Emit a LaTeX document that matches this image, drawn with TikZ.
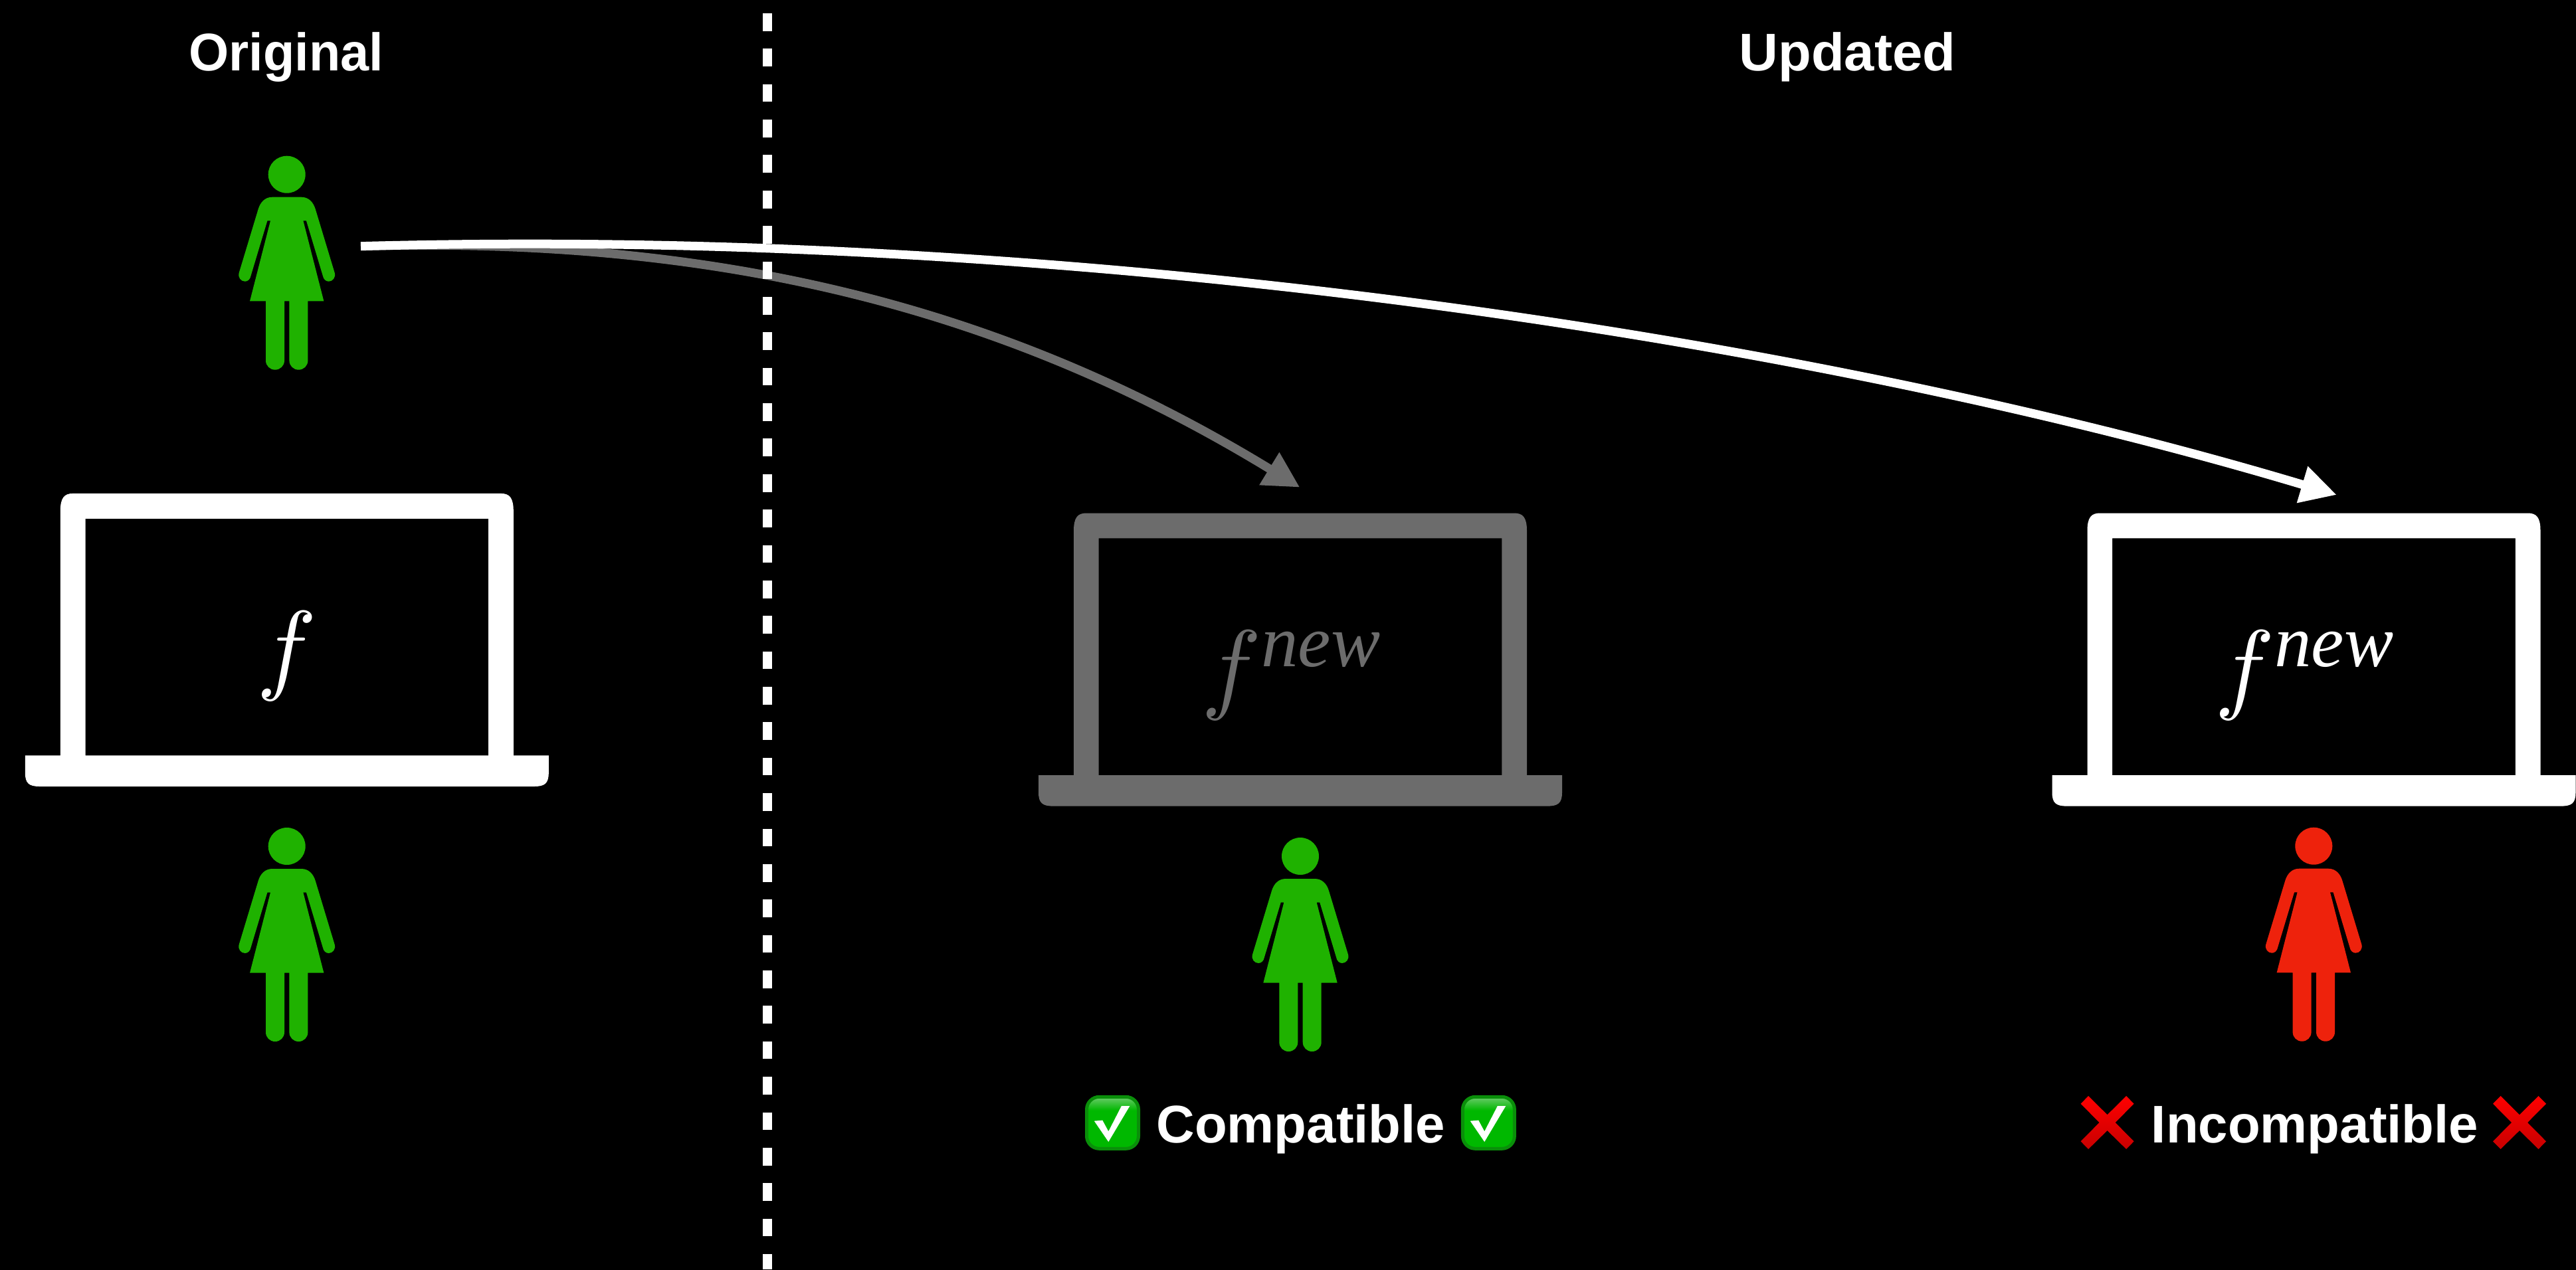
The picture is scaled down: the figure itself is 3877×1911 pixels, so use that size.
\documentclass[tikz,border=0pt]{standalone}
\usepackage{fontspec}
\setmainfont{Liberation Sans}
\newfontfamily\serifnew{Liberation Serif}
\usepackage{tikz}
\usetikzlibrary{arrows.meta}
\definecolor{usergreen}{HTML}{1FB200}
\definecolor{userred}{HTML}{EE220C}
\definecolor{dimgray}{HTML}{6C6C6C}
\definecolor{tickhi}{HTML}{6CCB6C}
\definecolor{tickmid}{HTML}{00B800}
\definecolor{ticklow}{HTML}{0A8F0A}
\definecolor{crosshi}{HTML}{FF0000}
\definecolor{crosslow}{HTML}{C80000}
\pgfdeclareverticalshading{tickshade}{100bp}{color(0bp)=(tickmid); color(25bp)=(tickmid); color(62bp)=(tickmid); color(75bp)=(tickhi); color(100bp)=(tickhi)}
\newcommand{\fnew}{$f^{\hbox{\raisebox{-0.29pt}{\fontsize{7.35}{8}\selectfont\serifnew\itshape new}}}$}
\tikzset{
 heading/.style={text=white,font=\fontsize{22.7}{26}\selectfont\bfseries,inner sep=0pt,anchor=base},
 fsym/.style={scale=4.3,inner sep=0pt},
 flow/.style={line width=1.3mm,-{Triangle[length=5.4mm,width=5.4mm]}},
 % figure in a dress, origin at the centre of the head
 pics/person/.style={code={
   \fill (0,0) circle (28);
   \fill (-22,34) -- (22,34) .. controls (33,34) and (40,42) .. (43,52) -- (72,148)
     .. controls (74,155) and (69,161) .. (63,161) .. controls (59,161) and (55,158) .. (54,152)
     -- (29.3,69.7) -- (24.7,69.7) -- (55.7,190.7) -- (31.7,190.7) -- (31.7,280)
     .. controls (31.7,288) and (25.5,294) .. (17.7,294) .. controls (9.9,294) and (3.7,288) .. (3.7,280)
     -- (3.7,190.7) -- (-3.7,190.7) -- (-3.7,280)
     .. controls (-3.7,288) and (-9.9,294) .. (-17.7,294) .. controls (-25.5,294) and (-31.7,288) .. (-31.7,280)
     -- (-31.7,190.7) -- (-55.7,190.7) -- (-24.7,69.7) -- (-29.3,69.7) -- (-54,152)
     .. controls (-55,158) and (-59,161) .. (-63,161) .. controls (-69,161) and (-74,155) .. (-72,148)
     -- (-43,52) .. controls (-40,42) and (-33,34) .. (-22,34) -- cycle;}},
 % origin at the middle of the lower screen edge
 pics/laptop/.style={code={
   \fill[even odd rule] (-394,0) -- (-341,0) -- (-341,-368) .. controls (-341,-388) and (-335,-394.5) .. (-322,-394.5)
     -- (322,-394.5) .. controls (335,-394.5) and (341,-388) .. (341,-368) -- (341,0) -- (394,0) -- (394,26)
     .. controls (394,42) and (388,46.6) .. (372,46.6) -- (-372,46.6) .. controls (-388,46.6) and (-394,42) .. (-394,26) -- cycle
     (-303.3,0) rectangle (303.3,-356.6);}},
 pics/tickbox/.style={code={
   \shade[draw=ticklow,line width=0.5mm,rounded corners=1.9mm,shading=tickshade]
     (-39,-39) rectangle (39,39);
   \fill[white] (-27.7,-2.7) -- (-15.2,-3.7) -- (-6.2,13) -- (13.4,-25.3) -- (25.9,-25.3) -- (-6.2,28.7) -- cycle;}},
 pics/crossmark/.style={code={
   \shade[top color=crosshi,bottom color=crosslow] (0,-11.7) -- (28.5,-40) -- (40,-28.3) -- (12,0) -- (40,28.3) -- (28.5,40)
     -- (0,12) -- (-28.5,40) -- (-40,28.3) -- (-12,0) -- (-40,-28.3) -- (-28.5,-40) -- cycle;}}
}
\begin{document}
\begin{tikzpicture}[x=0.01cm,y=-0.01cm]
 \useasboundingbox (0,0) rectangle (3877,1911);
 \fill[black] (-10,-10) rectangle (3887,1921);
 \node[heading,xscale=0.97] (orig) at (430.7,106.7) {Original};
 \node[heading,xscale=1.02] (upd) at (2780.5,106.7) {Updated};
 \pic[usergreen] (usertop) at (431.7,262.7) {person};
 \pic[usergreen] (userorig) at (431.7,1274) {person};
 \pic[usergreen] (usercomp) at (1957,1289) {person};
 \pic[userred] (userincomp) at (3482.3,1273.7) {person};
 \pic[white] (laporig) at (431.8,1137.4) {laptop};
 \pic[dimgray] (lapcomp) at (1957,1167) {laptop};
 \pic[white] (lapincomp) at (3482.5,1167) {laptop};
 \node[fsym,white,anchor=base] (forig) at (432,1025) {$f$};
 \node[fsym,dimgray,anchor=base west] (fcomp) at (1805,1054) {\fnew};
 \node[fsym,white,anchor=base west] (fincomp) at (3330,1054) {\fnew};
 \coordinate (src) at (543,370.7);
 \coordinate (dstcomp) at (1956.4,733.7);
 \coordinate (dstincomp) at (3516.8,745);
 \draw[flow,dimgray] (src) .. controls (1100,355) and (1528,472) .. (dstcomp);
 % divider goes over the gray arrow and under the white one
 \draw[white,line width=1.37mm,dash pattern=on 2.667mm off 2.667mm] (1155,20) -- (1155,1911);
 \draw[flow,white] (src) .. controls (1643,340) and (2748,514.5) .. (dstincomp);
 \pic at (1674.5,1690.3) {tickbox};
 \node[heading] (comp) at (1957.8,1720) {Compatible};
 \pic at (2240.4,1690.3) {tickbox};
 \pic at (3171.6,1690) {crossmark};
 \node[heading] (incomp) at (3484,1720) {Incompatible};
 \pic at (3792,1690) {crossmark};
\end{tikzpicture}
\end{document}
